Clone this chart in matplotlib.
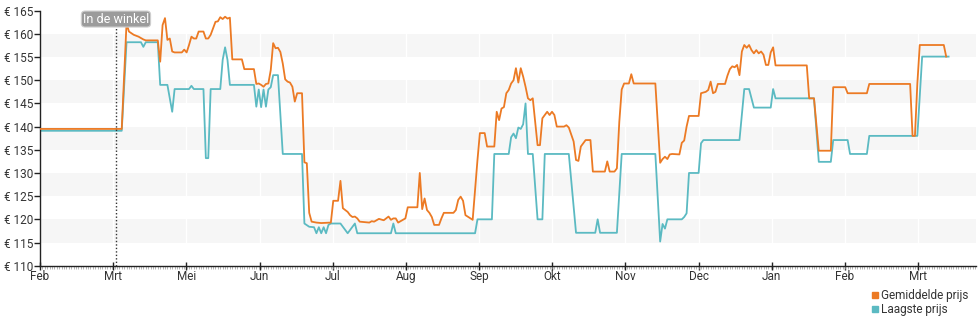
import matplotlib
matplotlib.use("Agg")
from matplotlib import pyplot as plt
from matplotlib.lines import Line2D

plt.rcParams['font.family'] = ['Roboto', 'DejaVu Sans']

# days since the first "Feb" tick
avg_days = [0, 34, 36, 37, 39, 41, 43, 44, 49, 50, 51, 52, 53, 54, 55, 56, 59, 60, 61, 62,
            63, 64, 65, 66, 68, 69, 70, 71, 72, 73, 74, 75, 76, 77, 78, 79, 80, 84, 85, 89,
            90, 91, 92, 93, 94, 95, 96, 97, 98, 99, 100, 101, 102, 103, 104, 105, 106, 107, 109, 110,
            111, 112, 113, 115, 117, 121, 122, 124, 125, 126, 128, 129, 130, 131, 132, 133, 137, 138, 139, 141,
            143, 144, 145, 146, 147, 148, 149, 152, 153, 157, 158, 159, 160, 161, 162, 163, 164, 166, 167, 168,
            172, 173, 174, 175, 176, 177, 180, 182, 183, 185, 186, 189, 190, 191, 192, 193, 194, 195, 196, 197,
            198, 199, 200, 201, 202, 203, 204, 205, 207, 208, 209, 211, 212, 213, 214, 215, 218, 219, 220, 222,
            223, 224, 225, 227, 229, 230, 235, 236, 237, 239, 240, 241, 242, 243, 245, 246, 247, 256, 258, 259,
            260, 261, 262, 263, 266, 267, 268, 269, 270, 274, 275, 277, 278, 279, 280, 281, 282, 285, 286, 287,
            288, 289, 290, 291, 292, 293, 294, 295, 296, 297, 298, 299, 300, 301, 302, 303, 304, 305, 306, 319,
            320, 322, 324, 329, 330, 335, 336, 344, 345, 362, 363, 364, 365, 366, 376, 377]
avg_price = [139.5, 139.5, 162.3, 160.5, 159.8, 159.4, 158.8, 158.6, 158.6, 154.0, 161.9, 163.4, 158.7, 159.0, 156.2, 156.0, 156.0, 156.6, 156.0, 157.6,
             159.4, 159.0, 159.0, 160.5, 160.5, 159.0, 159.0, 159.8, 161.2, 162.6, 162.7, 163.6, 163.2, 163.7, 163.3, 163.5, 154.5, 154.5, 152.4, 152.4,
             149.2, 149.3, 149.0, 148.6, 149.2, 149.3, 152.2, 158.0, 156.9, 157.0, 156.1, 153.6, 150.2, 149.7, 149.5, 148.6, 145.4, 147.2, 147.2, 132.3,
             132.1, 121.4, 119.5, 119.3, 119.2, 119.3, 124.0, 124.0, 128.3, 122.4, 121.6, 120.9, 120.5, 120.6, 120.2, 119.5, 119.3, 119.6, 119.5, 120.1,
             119.8, 120.2, 120.6, 119.9, 120.2, 120.2, 119.3, 120.2, 122.6, 122.6, 130.0, 122.2, 124.5, 122.0, 121.4, 120.5, 118.8, 118.8, 120.2, 121.4,
             121.4, 122.0, 124.2, 124.9, 124.0, 120.9, 119.9, 132.8, 138.6, 138.6, 135.7, 135.7, 143.2, 141.4, 143.9, 144.2, 147.2, 147.9, 149.3, 150.0,
             152.6, 149.5, 152.6, 150.8, 148.6, 146.1, 145.7, 146.1, 136.0, 136.0, 141.8, 143.2, 142.5, 143.2, 142.5, 140.0, 140.0, 140.3, 139.8, 136.8,
             132.8, 132.6, 135.7, 137.1, 137.1, 130.3, 130.3, 132.5, 130.3, 130.3, 131.0, 141.0, 148.0, 149.3, 149.3, 151.3, 149.3, 149.3, 132.2, 133.0,
             133.5, 133.0, 134.0, 134.1, 134.0, 136.5, 137.0, 140.0, 142.3, 142.3, 147.2, 147.5, 147.9, 149.7, 147.2, 147.5, 149.2, 149.2, 151.0, 152.4,
             153.0, 152.8, 153.3, 151.1, 156.2, 157.6, 157.0, 157.6, 156.5, 155.8, 156.5, 155.8, 156.2, 155.5, 153.3, 153.3, 156.0, 157.1, 153.2, 153.2,
             146.1, 146.1, 134.8, 134.8, 148.5, 148.5, 147.2, 147.2, 149.2, 149.2, 138.0, 138.0, 149.3, 157.6, 157.6, 155.1]

low_days = [0, 34, 36, 42, 43, 44, 49, 50, 53, 55, 56, 62, 63, 64, 68, 69, 70, 71, 75, 76,
            77, 78, 79, 89, 90, 91, 92, 93, 94, 95, 96, 97, 99, 101, 109, 110, 112, 114, 115, 116,
            117, 118, 119, 120, 121, 125, 128, 131, 132, 146, 147, 148, 181, 182, 188, 189, 195, 196, 197, 198,
            199, 200, 201, 202, 203, 205, 207, 209, 210, 220, 223, 231, 232, 233, 240, 242, 256, 258, 259, 260,
            261, 267, 268, 269, 270, 274, 275, 276, 291, 293, 295, 297, 304, 305, 306, 322, 324, 329, 330, 336,
            337, 344, 345, 365, 367, 378]
low_price = [139.1, 139.1, 158.2, 158.2, 157.2, 158.2, 158.2, 149.0, 149.0, 143.2, 148.1, 148.1, 148.8, 148.1, 148.1, 133.2, 133.2, 148.1, 148.1, 154.4,
             157.1, 154.4, 149.0, 149.0, 144.3, 148.0, 144.2, 148.0, 144.3, 148.0, 148.5, 151.1, 151.1, 134.1, 134.1, 119.1, 118.4, 118.3, 117.0, 118.3,
             117.0, 118.3, 117.0, 118.8, 119.1, 119.1, 117.0, 119.1, 117.0, 117.0, 119.1, 117.0, 117.0, 120.0, 120.0, 134.1, 134.1, 137.7, 138.5, 137.5,
             139.8, 139.5, 140.5, 145.0, 134.1, 134.1, 120.0, 120.0, 134.1, 134.1, 117.1, 117.1, 120.0, 117.1, 117.1, 134.1, 134.1, 115.2, 119.0, 118.0,
             120.0, 120.0, 120.5, 121.3, 130.0, 130.0, 136.4, 137.1, 137.1, 148.1, 148.1, 144.1, 144.1, 148.1, 146.1, 146.1, 132.4, 132.4, 137.1, 137.1,
             134.1, 134.1, 138.0, 138.0, 155.1, 155.1]

month_labels = ['Feb', 'Mrt', 'Mei', 'Jun', 'Jul', 'Aug', 'Sep', 'Okt', 'Nov', 'Dec', 'Jan', 'Feb', 'Mrt']
month_len = 30.44
in_store_day = 31.6

orange = '#ec7a24'
teal = '#5bbac2'

fig = plt.figure(figsize=(9.8, 3.25), dpi=100)
ax = fig.add_axes([40 / 980, 1 - 265.7 / 325, 936 / 980, 255 / 325])

for lo in (115, 125, 135, 145, 155):
    ax.axhspan(lo, lo + 5, color='#f6f6f6', lw=0, zorder=0)
month_ticks = [i * month_len for i in range(len(month_labels))]
for t in month_ticks[1:]:
    ax.axvline(t, color='white', lw=1, zorder=0.5)

ax.plot(avg_days, avg_price, color=orange, lw=1.3, zorder=3)
ax.plot(low_days, low_price, color=teal, lw=1.3, zorder=2)

ax.axvline(in_store_day, color='#333333', lw=1, linestyle=(0, (1, 1.5)), zorder=4)
ax.text(in_store_day, 163.2, 'In de winkel', color='white', fontsize=9, ha='center', va='center', zorder=5,
        bbox=dict(boxstyle='round,pad=0.12,rounding_size=0.3', fc='#9b9b9b', ec='#cfcfcf', lw=0.8))

ax.set_xlim(0, 389.4)
ax.set_ylim(110, 165)
ax.set_yticks(range(110, 166, 5))
ax.set_yticklabels(['€ %d' % v for v in range(110, 166, 5)])
ax.set_xticks(month_ticks)
ax.set_xticklabels(month_labels)
ax.set_xticks(range(0, 390), minor=True)

for s in ('top', 'right'):
    ax.spines[s].set_visible(False)
for s in ('left', 'bottom'):
    ax.spines[s].set_color('#222222')
    ax.spines[s].set_linewidth(1)

ax.tick_params(axis='y', length=4, width=1, color='#222222', labelsize=8.5, labelcolor='#333333', pad=1)
ax.tick_params(axis='x', which='major', direction='inout', length=6, width=1, color='#222222',
               labelsize=8.5, labelcolor='#333333', pad=0)
ax.tick_params(axis='x', which='minor', direction='out', length=2, width=0.5, color='#999999')

handles = [Line2D([], [], marker='s', color=orange, linestyle='', markersize=5),
           Line2D([], [], marker='s', color=teal, linestyle='', markersize=5)]
fig.legend(handles, ['Gemiddelde prijs', 'Laagste prijs'], loc='upper left', bbox_to_anchor=(872 / 980, 1 - 289 / 325),
           frameon=False, fontsize=8.5, handlelength=0.5, handletextpad=0.25, labelspacing=0.1, borderpad=0,
           borderaxespad=0, labelcolor='#333333')

fig.savefig('out.png', dpi=100)
